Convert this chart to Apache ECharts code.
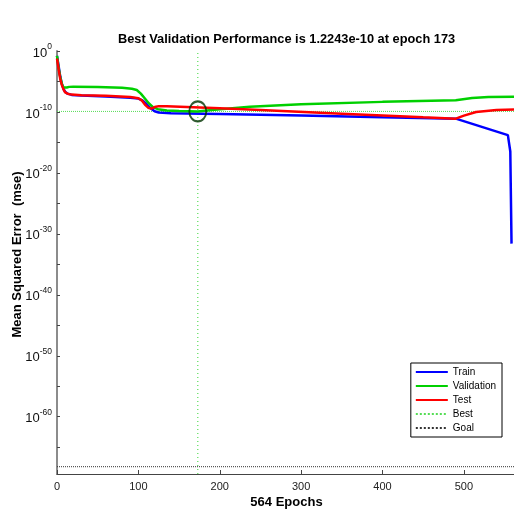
<!DOCTYPE html>
<html>
<head>
<meta charset="utf-8">
<script src="https://cdn.jsdelivr.net/npm/echarts@6/dist/echarts.min.js"></script>
<style>
  html, body { margin: 0; padding: 0; background: #fff; }
  #chart { width: 514px; height: 512px; }
</style>
</head>
<body>
<div id="chart"></div>
<script>
// epochs / mse values
const trainEpochs = [0, 2, 4, 6, 8, 10, 13, 18, 30, 60, 90, 100, 105, 110, 115, 120, 125, 140, 200, 300, 400, 490, 554, 557, 558.5];
const trainMse = [1.6e-1, 3.2e-3, 6.3e-5, 4e-6, 6.3e-7, 2e-7, 1e-7, 6.3e-8, 5e-8, 3.5e-8, 2.2e-8, 1.6e-8, 8e-9, 2e-9, 4e-10, 1.3e-10, 8e-11, 6.3e-11, 4.5e-11, 2.5e-11, 1.3e-11, 8e-12, 1.6e-14, 3.2e-17, 2.5e-32];

const valEpochs = [0, 2, 4, 6, 8, 10, 12, 15, 20, 50, 80, 92, 98, 103, 108, 113, 118, 124, 135, 150, 173, 190, 237, 300, 400, 490, 510, 530, 564];
const valMse = [1.6e-1, 1.6e-3, 5e-5, 4e-6, 1e-6, 5e-7, 1e-6, 1.3e-6, 1.4e-6, 1.3e-6, 9e-7, 6.3e-7, 4e-7, 1e-7, 1.6e-8, 2.5e-9, 6.3e-10, 2.8e-10, 1.8e-10, 1.4e-10, 1.2243e-10, 2e-10, 7e-10, 1.8e-9, 4.5e-9, 8e-9, 2e-8, 2.8e-8, 3.2e-8];

const testEpochs = [0, 2, 4, 6, 8, 10, 13, 18, 30, 60, 90, 100, 104, 108, 112, 116, 120, 125, 135, 200, 250, 350, 450, 490, 500, 515, 540, 564];
const testMse = [6e-2, 1e-3, 2.5e-5, 2.5e-6, 5e-7, 1.6e-7, 1e-7, 7e-8, 5.6e-8, 4.5e-8, 2.8e-8, 1.8e-8, 8e-9, 1.6e-9, 5e-10, 3.5e-10, 6.3e-10, 9e-10, 9e-10, 4e-10, 2e-10, 5e-11, 1.3e-11, 8e-12, 2.5e-11, 1e-10, 2e-10, 2.5e-10];

const bestEpoch = 173;
const bestPerf = 1.2243e-10;
const goalMse = 6.3e-69;
const maxEpoch = 564;
const yMinExp = -69.4;
const yTickExps = [0, -5, -10, -15, -20, -25, -30, -35, -40, -45, -50, -55, -60, -65];
const yLabelExps = [0, -10, -20, -30, -40, -50, -60];
const xTicks = [0, 100, 200, 300, 400, 500];

const pts = (xs, ys) => xs.map((x, i) => [x, Math.log10(ys[i])]);
const bestExp = Math.log10(bestPerf);

const chart = echarts.init(document.getElementById('chart'));
chart.setOption({
  animation: false,
  title: {
    text: 'Best Validation Performance is 1.2243e-10 at epoch 173',
    left: 118,
    top: 33,
    padding: 0,
    textStyle: { fontFamily: 'Liberation Sans', fontSize: 12.8, fontWeight: 'bold', color: '#000' }
  },
  grid: { left: 57, top: 51, width: 459, bottom: 38, outerBoundsMode: 'none', containLabel: false },
  legend: {
    data: ['Train', 'Validation', 'Test', 'Best', 'Goal'],
    orient: 'vertical',
    right: 12,
    top: 363,
    itemWidth: 32,
    itemHeight: 10,
    itemGap: 4,
    padding: [4, 6, 4, 4],
    borderColor: '#000',
    borderWidth: 1,
    backgroundColor: '#fff',
    itemStyle: { opacity: 0, borderWidth: 0 },
    textStyle: { fontFamily: 'Liberation Sans', fontSize: 10, color: '#000' }
  },
  xAxis: {
    type: 'value',
    min: 0,
    max: maxEpoch,
    name: maxEpoch + ' Epochs',
    nameLocation: 'middle',
    nameGap: 22,
    nameMoveOverlap: false,
    nameTextStyle: { fontFamily: 'Liberation Sans', fontSize: 13, fontWeight: 'bold', color: '#000' },
    axisLine: { onZero: false, lineStyle: { color: '#444', width: 1 } },
    axisTick: { inside: true, length: 4, lineStyle: { color: '#444' }, customValues: xTicks },
    axisLabel: { fontFamily: 'Liberation Sans', fontSize: 11, color: '#222', margin: 7, customValues: xTicks },
    splitLine: { show: false }
  },
  yAxis: {
    type: 'value',
    min: yMinExp,
    max: 0,
    name: 'Mean Squared Error  (mse)',
    nameLocation: 'middle',
    nameGap: 33,
    nameMoveOverlap: false,
    nameTextStyle: { fontFamily: 'Liberation Sans', fontSize: 13, fontWeight: 'bold', color: '#000', padding: [0, 0, 0, 16] },
    axisLine: { onZero: false, lineStyle: { color: '#8c8c8c', width: 2 } },
    axisTick: { inside: true, length: 3, lineStyle: { color: '#444' }, customValues: yTickExps },
    axisLabel: {
      customValues: yLabelExps,
      margin: 5,
      formatter: v => '{b|10}{s|' + v + '}',
      rich: {
        b: { fontFamily: 'Liberation Sans', fontSize: 13, color: '#111', lineHeight: 17, verticalAlign: 'bottom' },
        s: { fontFamily: 'Liberation Sans', fontSize: 8.5, color: '#111', lineHeight: 9, verticalAlign: 'top' }
      }
    },
    splitLine: { show: false }
  },
  series: [
    {
      name: 'Best', type: 'line', symbol: 'none', silent: true,
      data: [[0, bestExp], [maxEpoch, bestExp]],
      lineStyle: { color: '#55dd55', width: 1, type: 'dotted' }, itemStyle: { color: '#55dd55' }
    },
    {
      name: 'Best', type: 'line', symbol: 'none', silent: true,
      data: [[bestEpoch, yMinExp], [bestEpoch, 0]],
      lineStyle: { color: '#55dd55', width: 1.2, type: [1, 3] }, itemStyle: { color: '#55dd55' }
    },
    {
      name: 'Goal', type: 'line', symbol: 'none', silent: true,
      data: [[0, Math.log10(goalMse)], [maxEpoch, Math.log10(goalMse)]],
      lineStyle: { color: '#333', width: 1, type: 'dotted' }, itemStyle: { color: '#333' }
    },
    {
      name: 'Train', type: 'line', symbol: 'none',
      data: pts(trainEpochs, trainMse),
      lineStyle: { color: '#0000ff', width: 2.5 }, itemStyle: { color: '#0000ff' }
    },
    {
      name: 'Validation', type: 'line', symbol: 'none',
      data: pts(valEpochs, valMse),
      lineStyle: { color: '#00d000', width: 2.5 }, itemStyle: { color: '#00d000' }
    },
    {
      name: 'Test', type: 'line', symbol: 'none',
      data: pts(testEpochs, testMse),
      lineStyle: { color: '#ff0000', width: 2.5 }, itemStyle: { color: '#ff0000' }
    },
    {
      name: 'bestPoint', type: 'scatter', silent: true, z: 5,
      data: [[bestEpoch, bestExp]],
      symbol: 'circle', symbolSize: [17, 20],
      itemStyle: { color: 'rgba(0,0,0,0)', borderColor: '#003300', borderWidth: 2 }
    }
  ]
});
</script>
</body>
</html>
